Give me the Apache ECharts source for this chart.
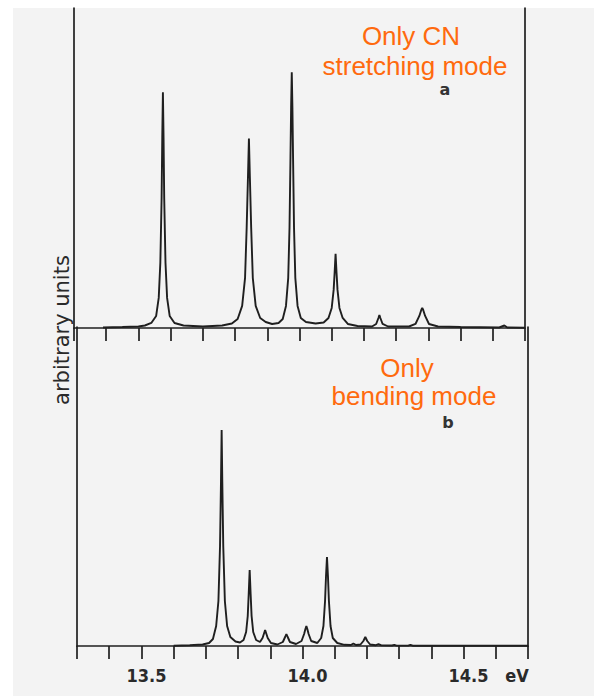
<!DOCTYPE html>
<html>
<head>
<meta charset="utf-8">
<script src="https://cdn.jsdelivr.net/npm/echarts@6/dist/echarts.min.js"></script>
<style>
html,body{margin:0;padding:0;background:#f3f3f3;}
#chart{width:594px;height:696px;}
</style>
</head>
<body>
<div id="chart"></div>
<script>
// ---- data (energies in eV, intensities in arbitrary units) ----
var xMin = 13.3, xMax = 14.7, xStep = 0.1;
var tickValues = [13.5, 14.0, 14.5, 14.7];
var tickLabels = ['13.5', '14.0', '14.5', 'eV'];
var yAxisTitle = 'arbitrary units';
var labelA = ['Only CN', 'stretching mode'];
var labelB = ['Only', 'bending mode'];
var panelLetters = ['a', 'b'];

// (a) only CN stretching mode – traced spectrum
var stretchEnergy = [13.39,13.45,13.50,13.52,13.54,13.555,13.563,13.568,13.572,13.574,13.576,13.578,13.580,13.584,13.589,13.597,13.612,13.64,13.70,13.76,13.79,13.808,13.822,13.831,13.836,13.840,13.843,13.846,13.850,13.855,13.864,13.878,13.895,13.915,13.935,13.948,13.958,13.965,13.969,13.972,13.974,13.976,13.978,13.980,13.983,13.987,13.994,14.004,14.02,14.05,14.075,14.09,14.100,14.106,14.109,14.112,14.115,14.118,14.124,14.134,14.15,14.18,14.225,14.238,14.245,14.248,14.251,14.258,14.275,14.34,14.36,14.372,14.378,14.381,14.384,14.39,14.402,14.43,14.50,14.62,14.636,14.645,14.70];
var stretchValue  = [0.5,1,1.5,2.5,5,12,30,65,130,190,235,190,130,65,30,12,5,2.5,1.5,2.5,4.5,9,22,50,100,150,189,150,100,50,22,10,6,4,5,9,22,50,100,170,220,255,220,170,100,50,22,10,6,4.5,5.5,10,20,38,55,74,55,38,20,10,4,2,1.5,4,10,13,10,4,1.5,1.5,4,12,18,20,18,12,4,1.5,1,0.5,2.5,0.5,0.3];

// (b) only bending mode – traced spectrum
var bendEnergy = [13.60,13.65,13.69,13.71,13.722,13.732,13.739,13.744,13.747,13.749,13.751,13.754,13.759,13.766,13.776,13.792,13.806,13.817,13.825,13.830,13.833,13.836,13.839,13.842,13.847,13.856,13.868,13.876,13.881,13.884,13.887,13.892,13.902,13.922,13.939,13.946,13.950,13.954,13.961,13.980,13.997,14.005,14.009,14.012,14.015,14.019,14.027,14.046,14.058,14.065,14.070,14.073,14.076,14.079,14.082,14.087,14.094,14.108,14.13,14.150,14.158,14.166,14.18,14.189,14.195,14.201,14.21,14.228,14.236,14.245,14.278,14.285,14.292,14.328,14.335,14.342,14.40,14.70];
var bendValue  = [0.3,0.8,1.5,3,7,20,45,100,165,216,165,100,45,20,9,4.5,3.5,6,14,30,52,76,52,30,14,6,4,8,13,16,13,8,3,1.5,4,9,12,9,4,2,5,12,17,20,17,12,5,3,8,20,45,70,89,70,45,20,8,3,1.2,1,2.5,1,1.5,5,9,5,1.5,0.8,1.8,0.6,0.5,1.2,0.4,0.4,1.2,0.3,0.2,0.2];

function pairs(xs, ys) { var o = []; for (var i = 0; i < xs.length; i++) o.push([xs[i], ys[i]]); return o; }

var ink = '#1f1f1f';
var orange = '#ff6a0e';
var tickFont = '"Liberation Sans Narrow","DejaVu Sans Condensed","Liberation Sans",sans-serif';

function fmtTick(v) {
  var k = Math.round(v * 10) / 10;
  for (var i = 0; i < tickValues.length; i++) {
    if (Math.abs(tickValues[i] - k) < 1e-6) {
      return tickLabels[i] === 'eV' ? '{e|' + tickLabels[i] + '}' : '{n|' + tickLabels[i] + '}';
    }
  }
  return '';
}

var chart = echarts.init(document.getElementById('chart'), null, {renderer: 'svg'});
var xCommon = {
  type: 'value', min: xMin, max: xMax, interval: xStep,
  axisLine: {show: true, onZero: false, lineStyle: {color: ink, width: 1.7}},
  axisTick: {show: true, inside: false, length: 13, lineStyle: {color: ink, width: 1.7}},
  splitLine: {show: false}
};
var yCommon = {
  type: 'value', min: 0, max: 319,
  axisLine: {show: true, lineStyle: {color: ink, width: 1.7}},
  axisTick: {show: false}, axisLabel: {show: false}, splitLine: {show: false}
};

chart.setOption({
  backgroundColor: '#f3f3f3',
  animation: false,
  grid: [
    {left: 74, top: 8, width: 451, height: 320},
    {left: 77, top: 327, width: 451, height: 319}
  ],
  xAxis: [
    Object.assign({}, xCommon, {gridIndex: 0, axisLabel: {show: false}}),
    Object.assign({}, xCommon, {gridIndex: 1, axisLabel: {
      show: true, margin: 20, formatter: fmtTick, color: ink,
      rich: {
        n: {fontSize: 18, fontWeight: 'bold', fontFamily: tickFont, color: '#2a2a2a', padding: [0, 0, 0, 10]},
        e: {fontSize: 18, fontWeight: 'bold', fontFamily: tickFont, color: '#2a2a2a', padding: [0, 22, 0, 0]}
      }
    }})
  ],
  yAxis: [
    Object.assign({}, yCommon, {gridIndex: 0, position: 'left'}),
    Object.assign({}, yCommon, {gridIndex: 0, position: 'right'}),
    Object.assign({}, yCommon, {gridIndex: 1, position: 'left'}),
    Object.assign({}, yCommon, {gridIndex: 1, position: 'right'})
  ],
  series: [
    {type: 'line', xAxisIndex: 0, yAxisIndex: 0, data: pairs(stretchEnergy, stretchValue),
     showSymbol: false, lineStyle: {color: ink, width: 1.9}, smooth: false, silent: true},
    {type: 'line', xAxisIndex: 1, yAxisIndex: 2, data: pairs(bendEnergy, bendValue),
     showSymbol: false, lineStyle: {color: ink, width: 1.9}, smooth: false, silent: true}
  ],
  graphic: [
    {type: 'rect', left: 0, top: 0, z: -10, shape: {width: 594, height: 8}, style: {fill: '#ffffff'}},
    {type: 'rect', left: 0, top: 0, z: -10, shape: {width: 13, height: 696}, style: {fill: '#ffffff'}},
    {type: 'text', x: 62, y: 330, rotation: Math.PI / 2, style: {text: yAxisTitle, fill: '#2a2a2a', font: '21px "DejaVu Sans", sans-serif', align: 'center', verticalAlign: 'middle'}},
    {type: 'text', x: 411, y: 36, style: {text: labelA[0], fill: orange, font: '26px "Liberation Sans", Arial, sans-serif', lineHeight: 22, align: 'center', verticalAlign: 'middle'}},
    {type: 'text', x: 415, y: 66, style: {text: labelA[1], fill: orange, font: '26px "Liberation Sans", Arial, sans-serif', lineHeight: 22, align: 'center', verticalAlign: 'middle'}},
    {type: 'text', x: 445, y: 89, z: -1, style: {text: panelLetters[0], fill: '#333', font: 'bold 16px "DejaVu Sans", sans-serif', lineHeight: 12, align: 'center', verticalAlign: 'middle'}},
    {type: 'text', x: 407, y: 368, style: {text: labelB[0], fill: orange, font: '26px "Liberation Sans", Arial, sans-serif', lineHeight: 20, align: 'center', verticalAlign: 'middle'}},
    {type: 'text', x: 414, y: 396, style: {text: labelB[1], fill: orange, font: '26px "Liberation Sans", Arial, sans-serif', lineHeight: 20, align: 'center', verticalAlign: 'middle'}},
    {type: 'text', x: 448, y: 422, z: -1, style: {text: panelLetters[1], fill: '#333', font: 'bold 16px "DejaVu Sans", sans-serif', lineHeight: 12, align: 'center', verticalAlign: 'middle'}}
  ]
});
</script>
</body>
</html>
